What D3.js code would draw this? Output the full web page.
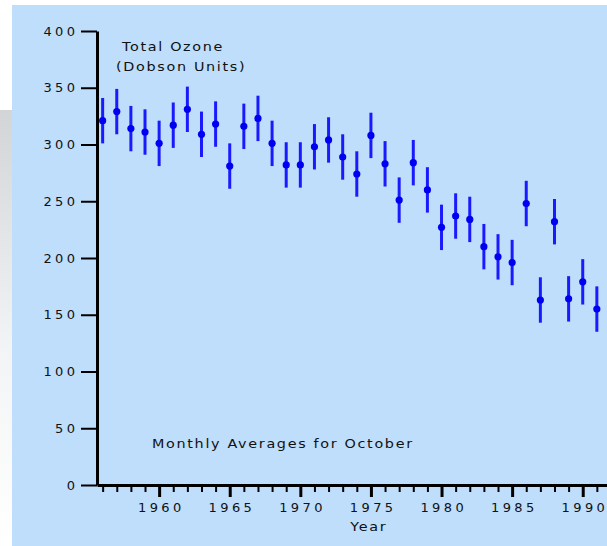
<!DOCTYPE html>
<html><head><meta charset="utf-8">
<script src="https://cdn.jsdelivr.net/npm/d3@7"></script>
<style>
html,body{margin:0;padding:0;background:#fff;}
svg{display:block;}
text{font-family:"DejaVu Sans",Verdana,sans-serif;fill:#111;}
</style></head>
<body>
<svg id="c" width="607" height="546"></svg>
<script>
const years = [1956,1957,1958,1959,1960,1961,1962,1963,1964,1965,1966,1967,1968,1969,1970,1971,1972,1973,1974,1975,1976,1977,1978,1979,1980,1981,1982,1983,1984,1985,1986,1987,1988,1989,1990,1991,1992];
const ozone = [321,329,314,311,301,317,331,309,318,281,316,323,301,282,282,298,304,289,274,308,283,251,284,260,227,237,234,210,201,196,248,163,232,164,179,155,137];
const errorHalf = [20,20,20,20,20,20,20,20,20,20,20,20,20,20,20,20,20,20,20,20,20,20,20,20,20,20,20,20,20,20,20,20,20,20,20,20,20];
const yTicks = [0,50,100,150,200,250,300,350,400];
const xMajor = [1960,1965,1970,1975,1980,1985,1990];
const labels = {title1:"Total Ozone", title2:"(Dobson Units)", note:"Monthly Averages for October", xTitle:"Year"};

const svg = d3.select("#c");
const defs = svg.append("defs");
const g1 = defs.append("linearGradient").attr("id","side").attr("x1",0).attr("y1",0).attr("x2",0).attr("y2",1);
g1.append("stop").attr("offset","0").attr("stop-color","#d2d4d6");
g1.append("stop").attr("offset","0.55").attr("stop-color","#f3f4f5");
g1.append("stop").attr("offset","1").attr("stop-color","#ffffff");
svg.append("rect").attr("x",0).attr("y",0).attr("width",607).attr("height",546).attr("fill","#fff");
svg.append("rect").attr("x",0).attr("y",110).attr("width",12).attr("height",436).attr("fill","url(#side)");
svg.append("rect").attr("x",12).attr("y",5).attr("width",595).attr("height",541).attr("fill","#bedefc");

const x = d3.scaleLinear().domain([1955.6, 1992.6]).range([97, 97 + 37*14.12]);
const y = d3.scaleLinear().domain([0, 400]).range([485, 31]);
const numSpace = 3.4;

// Y axis
const ya = svg.append("g").attr("transform","translate(97,0)")
  .call(d3.axisLeft(y).tickValues(yTicks).tickSize(16).tickPadding(6).tickSizeOuter(0));
ya.select(".domain").attr("stroke","#000").attr("stroke-width",3);
ya.selectAll(".tick line").attr("stroke","#000").attr("stroke-width",2);
ya.selectAll(".tick text").attr("font-size",13).attr("letter-spacing",numSpace+"px").attr("fill","#111")
  .attr("dx", numSpace).style("font-family","'DejaVu Sans',Verdana,sans-serif");

// X axis minor
const minorYears = d3.range(1956, 1993).filter(v => xMajor.indexOf(v) < 0);
const xm = svg.append("g").attr("transform","translate(0,485)")
  .call(d3.axisBottom(x).tickValues(minorYears).tickSize(7).tickFormat("").tickSizeOuter(0));
xm.select(".domain").remove();
xm.selectAll(".tick line").attr("stroke","#000").attr("stroke-width",2);
const xa = svg.append("g").attr("transform","translate(0,485)")
  .call(d3.axisBottom(x).tickValues(xMajor).tickSize(12).tickPadding(6).tickFormat(d3.format("d")).tickSizeOuter(0));
xa.select(".domain").attr("stroke","#000").attr("stroke-width",3);
xa.selectAll(".tick line").attr("stroke","#000").attr("stroke-width",3);
xa.selectAll(".tick text").attr("font-size",13).attr("letter-spacing",numSpace+"px").attr("fill","#111")
  .attr("y",26.7).attr("dy",0).attr("dx", numSpace/2).style("font-family","'DejaVu Sans',Verdana,sans-serif");

// error bars
const data = years.map((yr,i)=>({yr, v:ozone[i], e:errorHalf[i]}));
svg.append("g").selectAll("line").data(data).join("line")
  .attr("x1",d=>x(d.yr)).attr("x2",d=>x(d.yr))
  .attr("y1",d=>y(d.v+d.e)).attr("y2",d=>y(d.v-d.e))
  .attr("stroke","#1a1aff").attr("stroke-width",3);
svg.append("g").selectAll("circle").data(data).join("circle")
  .attr("cx",d=>x(d.yr)).attr("cy",d=>y(d.v)).attr("r",3.6).attr("fill","#0000f0");

// texts (slightly widened glyphs)
const txt = (s,xx,yy,anchor)=>svg.append("text")
  .attr("transform",`translate(${xx},${yy}) scale(1.15,1)`)
  .attr("font-size",12.5).attr("letter-spacing","1.45px").attr("text-anchor",anchor||"start")
  .attr("dx", anchor==="middle" ? 0.7 : 0).text(s);
txt(labels.title1,122,50.5);
txt(labels.title2,116,70.5);
txt(labels.note,152,448.3);
txt(labels.xTitle,368,530.7,"middle");
</script>
</body></html>
